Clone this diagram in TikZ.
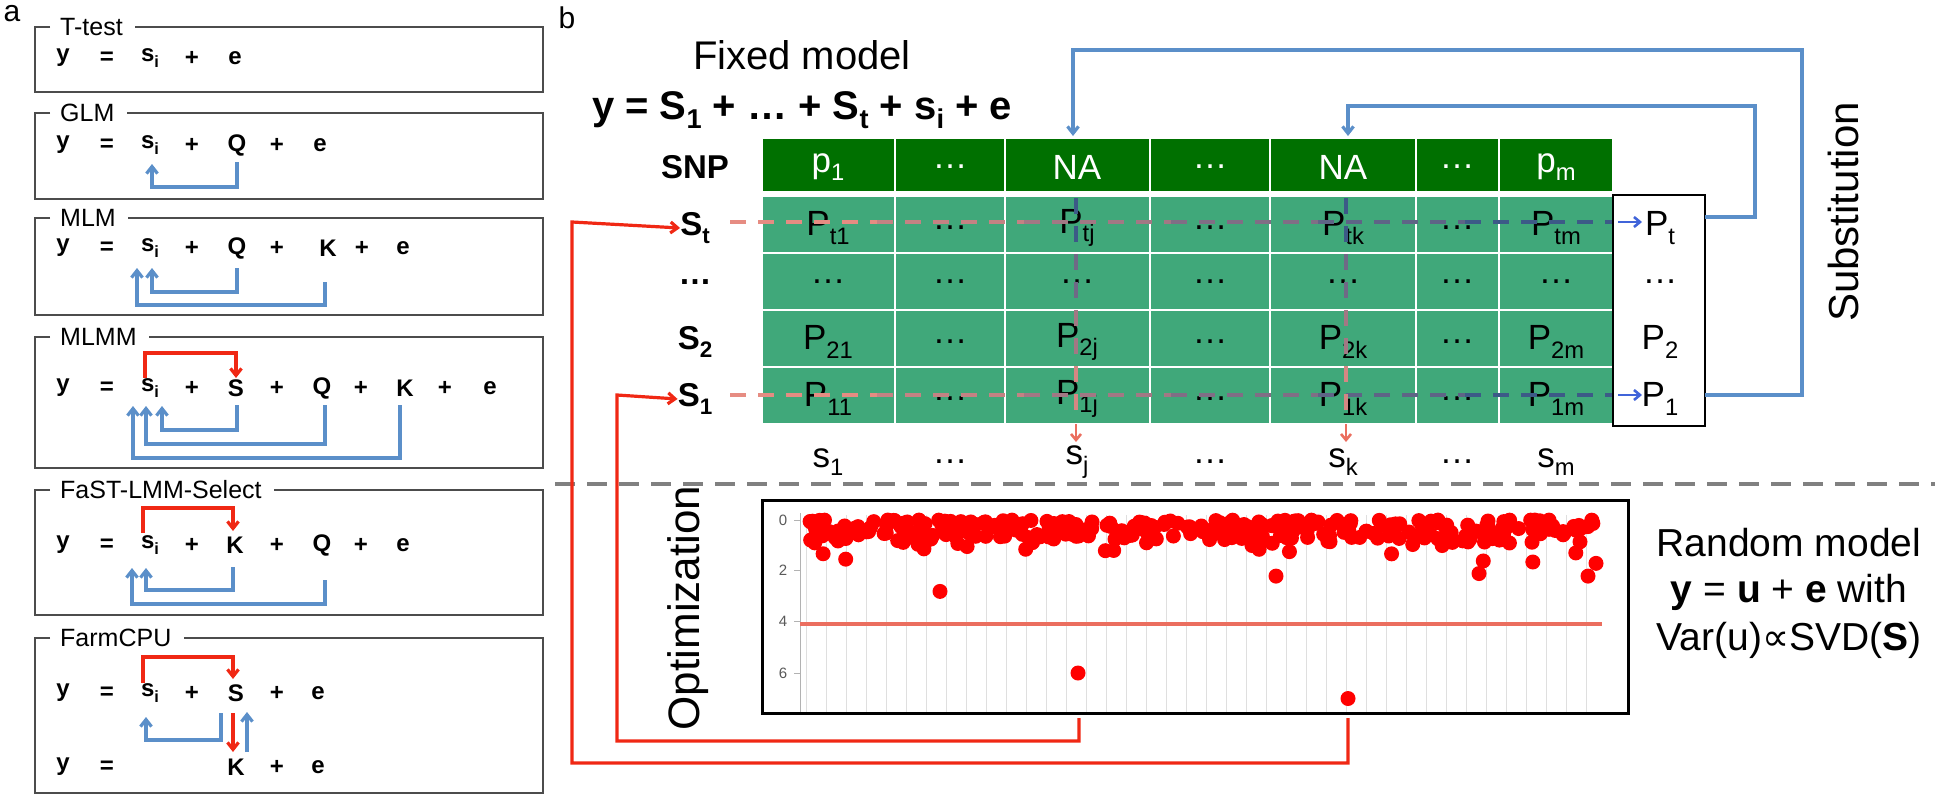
\documentclass[tikz,border=0pt]{standalone}
\usepackage{fontspec}
\setmainfont{Liberation Sans}
\newfontfamily\djv{DejaVu Sans}
\usetikzlibrary{arrows.meta}
\definecolor{bl}{RGB}{91,143,201}
\definecolor{rd}{RGB}{240,40,20}
\definecolor{hdr}{RGB}{0,112,0}
\definecolor{bod}{RGB}{64,168,122}
\definecolor{dred}{RGB}{230,140,130}
\definecolor{dblu}{RGB}{60,90,135}
\definecolor{sal}{RGB}{235,110,95}
\newcommand{\lo}[1]{\raisebox{-0.45ex}{\scalebox{0.68}{#1}}}
\newcommand{\fs}[1]{\fontsize{#1}{#1}\selectfont}
\begin{document}
\begin{tikzpicture}[x=1pt,y=-1pt,
  box/.style={draw=black!70,line width=1.6},
  ttl/.style={anchor=west,inner sep=0,font=\fs{25}},
  eq/.style={inner sep=0,font=\fs{24}\bfseries},
  ba/.style={draw=bl,line width=3.2,-{Straight Barb[length=7,width=11]}},
  ra/.style={draw=rd,line width=3.2,-{Straight Barb[length=7,width=11]}},
  cell/.style={inner sep=0,font=\fs{35}},
  lab/.style={inner sep=0,font=\fs{33}\bfseries},
  bt/.style={inner sep=0,font=\fs{39}},
  big/.style={inner sep=0,font=\fs{40}}]
\useasboundingbox (0,0) rectangle (1948,800);
% ---------------- panel a
\node[inner sep=0,font=\fs{30}] (la) at (12,14) {a};
\newcommand{\abox}[4]{%
  \node[ttl] (#4) at (60,#1) {#3};
  \draw[box] (50,#1) -- (35,#1) -- (35,#2) -- (543,#2) -- (543,#1) -- ([xshift=12pt]#4.east);}
\abox{27}{92}{T-test}{t1}
\abox{113}{199}{GLM}{t2}
\abox{218}{315}{MLM}{t3}
\abox{337}{468}{MLMM}{t4}
\abox{490}{615}{FaST-LMM-Select}{t5}
\abox{638}{793}{FarmCPU}{t6}
% T-test
\node[eq] (a1y) at (63,58) {y}; \node[eq] (a1q) at (107,58) {=};
\node[eq] (a1s) at (150,58) {s\lo{i}}; \node[eq] at (192,58) {+}; \node[eq] at (235,58) {e};
% GLM
\node[eq] at (63,145) {y}; \node[eq] at (107,145) {=}; \node[eq] (a2s) at (150,145) {s\lo{i}};
\node[eq] at (192,145) {+}; \node[eq] (a2Q) at (237,145) {Q}; \node[eq] at (277,145) {+}; \node[eq] at (320,145) {e};
\draw[ba] (237,162) -- (237,187) -- (152,187) -- (152,164);
% MLM
\node[eq] at (63,248) {y}; \node[eq] at (107,248) {=}; \node[eq] at (150,248) {s\lo{i}};
\node[eq] at (192,248) {+}; \node[eq] at (237,248) {Q}; \node[eq] at (277,248) {+};
\node[eq] at (328,248) {K}; \node[eq] at (362,248) {+}; \node[eq] at (403,248) {e};
\draw[ba] (237,268) -- (237,292) -- (152,292) -- (152,268);
\draw[ba] (325,282) -- (325,305) -- (137,305) -- (137,268);
% MLMM
\node[eq] at (63,388) {y}; \node[eq] at (107,388) {=}; \node[eq] at (150,388) {s\lo{i}};
\node[eq] at (192,388) {+}; \node[eq] at (236,388) {S}; \node[eq] at (277,388) {+};
\node[eq] at (322,388) {Q}; \node[eq] at (361,388) {+}; \node[eq] at (405,388) {K};
\node[eq] at (445,388) {+}; \node[eq] at (490,388) {e};
\draw[ra] (145,378) -- (145,353) -- (236,353) -- (236,378);
\draw[ba] (237,405) -- (237,430) -- (162,430) -- (162,406);
\draw[ba] (325,405) -- (325,444) -- (146,444) -- (146,406);
\draw[ba] (400,405) -- (400,458) -- (133,458) -- (133,406);
% FaST
\node[eq] at (63,545) {y}; \node[eq] at (107,545) {=}; \node[eq] at (150,545) {s\lo{i}};
\node[eq] at (192,545) {+}; \node[eq] at (235,545) {K}; \node[eq] at (277,545) {+};
\node[eq] at (322,545) {Q}; \node[eq] at (361,545) {+}; \node[eq] at (403,545) {e};
\draw[ra] (143,533) -- (143,508) -- (233,508) -- (233,531);
\draw[ba] (233,567) -- (233,590) -- (146,590) -- (146,568);
\draw[ba] (325,580) -- (325,604) -- (132,604) -- (132,568);
% FarmCPU
\node[eq] at (63,693) {y}; \node[eq] at (107,693) {=}; \node[eq] at (150,693) {s\lo{i}};
\node[eq] at (192,693) {+}; \node[eq] at (236,693) {S}; \node[eq] at (277,693) {+}; \node[eq] at (318,693) {e};
\node[eq] at (63,767) {y}; \node[eq] at (107,767) {=};
\node[eq] at (236,767) {K}; \node[eq] at (277,767) {+}; \node[eq] at (318,767) {e};
\draw[ra] (143,683) -- (143,657) -- (233,657) -- (233,679);
\draw[ba] (221,713) -- (221,740) -- (146,740) -- (146,717);
\draw[ra] (233,713) -- (233,752);
\draw[ba] (247,752) -- (247,712);
% ---------------- panel b
\node[inner sep=0,font=\fs{30}] (lb) at (567,18) {b};
\node[big] (fm) at (802,55) {Fixed model};
\node[big,font=\fs{40}\bfseries] (feq) at (802,110) {y = S\lo{1} + … + S\lo{t} + s\lo{i} + e};
% table
\foreach \a/\b in {762/895,895/1005,1005/1150,1150/1270,1270/1416,1416/1499,1499/1613}{
  \fill[hdr] (\a,138) rectangle (\b,192);
  \fill[bod] (\a,196) rectangle (\b,424);
  \draw[white,line width=2.5] (\a,138) rectangle (\b,192);
  \foreach \r/\s in {196/253,253/310,310/367,367/424}{\draw[white,line width=2.5] (\a,\r) rectangle (\b,\s);}
}
\draw[black,line width=2] (1613,195) rectangle (1705,426);
\foreach \x/\t in {828/p\lo{1},950/…,1077/NA,1210/…,1343/NA,1457/…,1556/p\lo{m}}
  \node[cell,text=white] at (\x,167) {\t};
\foreach \x/\t in {828/P\lo{t1},950/…,1077/P\lo{tj},1210/…,1343/P\lo{tk},1457/…,1556/P\lo{tm},1660/P\lo{t}}
  \node[cell] at (\x,228) {\t};
\foreach \x in {828,950,1077,1210,1343,1457,1556,1660}
  \node[cell] at (\x,282) {…};
\foreach \x/\t in {828/P\lo{21},950/…,1077/P\lo{2j},1210/…,1343/P\lo{2k},1457/…,1556/P\lo{2m},1660/P\lo{2}}
  \node[cell] at (\x,342) {\t};
\foreach \x/\t in {828/P\lo{11},950/…,1077/P\lo{1j},1210/…,1343/P\lo{1k},1457/…,1556/P\lo{1m},1660/P\lo{1}}
  \node[cell] at (\x,399) {\t};
\foreach \x/\t in {828/s\lo{1},950/…,1077/s\lo{j},1210/…,1343/s\lo{k},1457/…,1556/s\lo{m}}
  \node[cell] at (\x,462) {\t};
\node[lab] (snp) at (695,167) {SNP};
\node[lab] (St) at (695,228) {S\lo{t}};
\node[lab] (Sd) at (695,282) {…};
\node[lab] (S2) at (695,342) {S\lo{2}};
\node[lab] (S1) at (695,399) {S\lo{1}};
% dashed traces
\foreach \yy in {222,395}{
 \foreach \i in {0,...,5}{
  \pgfmathsetmacro\p{20*\i}
  \draw[dblu!\p!dred,line width=3.5,dash pattern=on 16pt off 12pt] ({730+147*\i},\yy) -- ({730+147*(\i+1)},\yy);
 }
 \draw[draw=blue!30!bl,line width=2.6,-{Straight Barb[length=6,width=10]}] (1618,\yy) -- (1642,\yy);
}
\foreach \xx in {1076,1346}{
 \foreach \i in {0,...,3}{
  \pgfmathsetmacro\p{100-30*\i}
  \draw[dblu!\p!dred,line width=3.5,dash pattern=on 16pt off 12pt] (\xx,{198+56*\i}) -- (\xx,{198+56*(\i+1)});
 }
 \draw[draw=sal,line width=2.6,-{Straight Barb[length=6,width=10]}] (\xx,424) -- (\xx,442);
}
% substitution arrows
\draw[ba] (1705,395) -- (1802,395) -- (1802,50) -- (1073,50) -- (1073,136);
\draw[ba] (1705,217) -- (1755,217) -- (1755,106) -- (1348,106) -- (1348,136);
\node[bt,font=\fs{42}, rotate=90] (sub) at (1843,212) {Substitution};
% separator
\draw[gray,line width=4,dash pattern=on 20pt off 12pt] (555,484) -- (1935,484);
% plot
\foreach \i in {0,...,39} \draw[gray!25,line width=1] ({806+20*\i},515) -- ({806+20*\i},712);
\draw[gray!60,line width=1] (800,513) -- (800,712);
\foreach \v/\yy in {0/520,2/570,4/621,6/673}{
  \draw[gray!60,line width=1] (794,\yy) -- (800,\yy);
  \node[inner sep=0,font=\fs{15},text=gray!70!black] at (783,\yy) {\v};}
\draw[sal,line width=4] (800,624) -- (1602,624);
\pgfmathsetseed{11}
\foreach \i in {1,...,190}{
  \pgfmathsetmacro\xx{810+790*rnd}
  \pgfmathsetmacro\vv{0.9*rnd}
  \fill[red] (\xx,{520+25.5*\vv}) circle (7.5);}
\foreach \i in {1,...,120}{
  \pgfmathsetmacro\xx{810+790*rnd}
  \pgfmathsetmacro\vv{1.8*rnd*rnd}
  \fill[red] (\xx,{520+25.5*\vv}) circle (7.5);}
\foreach \xx/\vv in {940/2.8,1078/6.0,1348/7.0,1276/2.2,1479/2.1,1588/2.2,1596/1.7}
  \fill[red] (\xx,{520+25.5*\vv}) circle (7.5);
\draw[black,line width=3] (762,500) rectangle (1628,713);
\node[bt,font=\fs{44},rotate=90] (opt) at (688,608) {Optimization};
% feedback arrows
\draw[ra] (1079,718) -- (1079,741) -- (617,741) -- (617,395) -- (S1.west);
\draw[ra] (1348,718) -- (1348,763) -- (572,763) -- (572,222) -- (St.west);
% random model
\node[bt] (rm1) at (1789,543) {Random model};
\node[bt] (rm2) at (1789,592) {\textbf{y} = \textbf{u} + \textbf{e} with};
\node[bt] (rm3) at (1789,640) {Var(u){\djv\fs{38}∝}SVD(\textbf{S})};
\end{tikzpicture}
\end{document}
